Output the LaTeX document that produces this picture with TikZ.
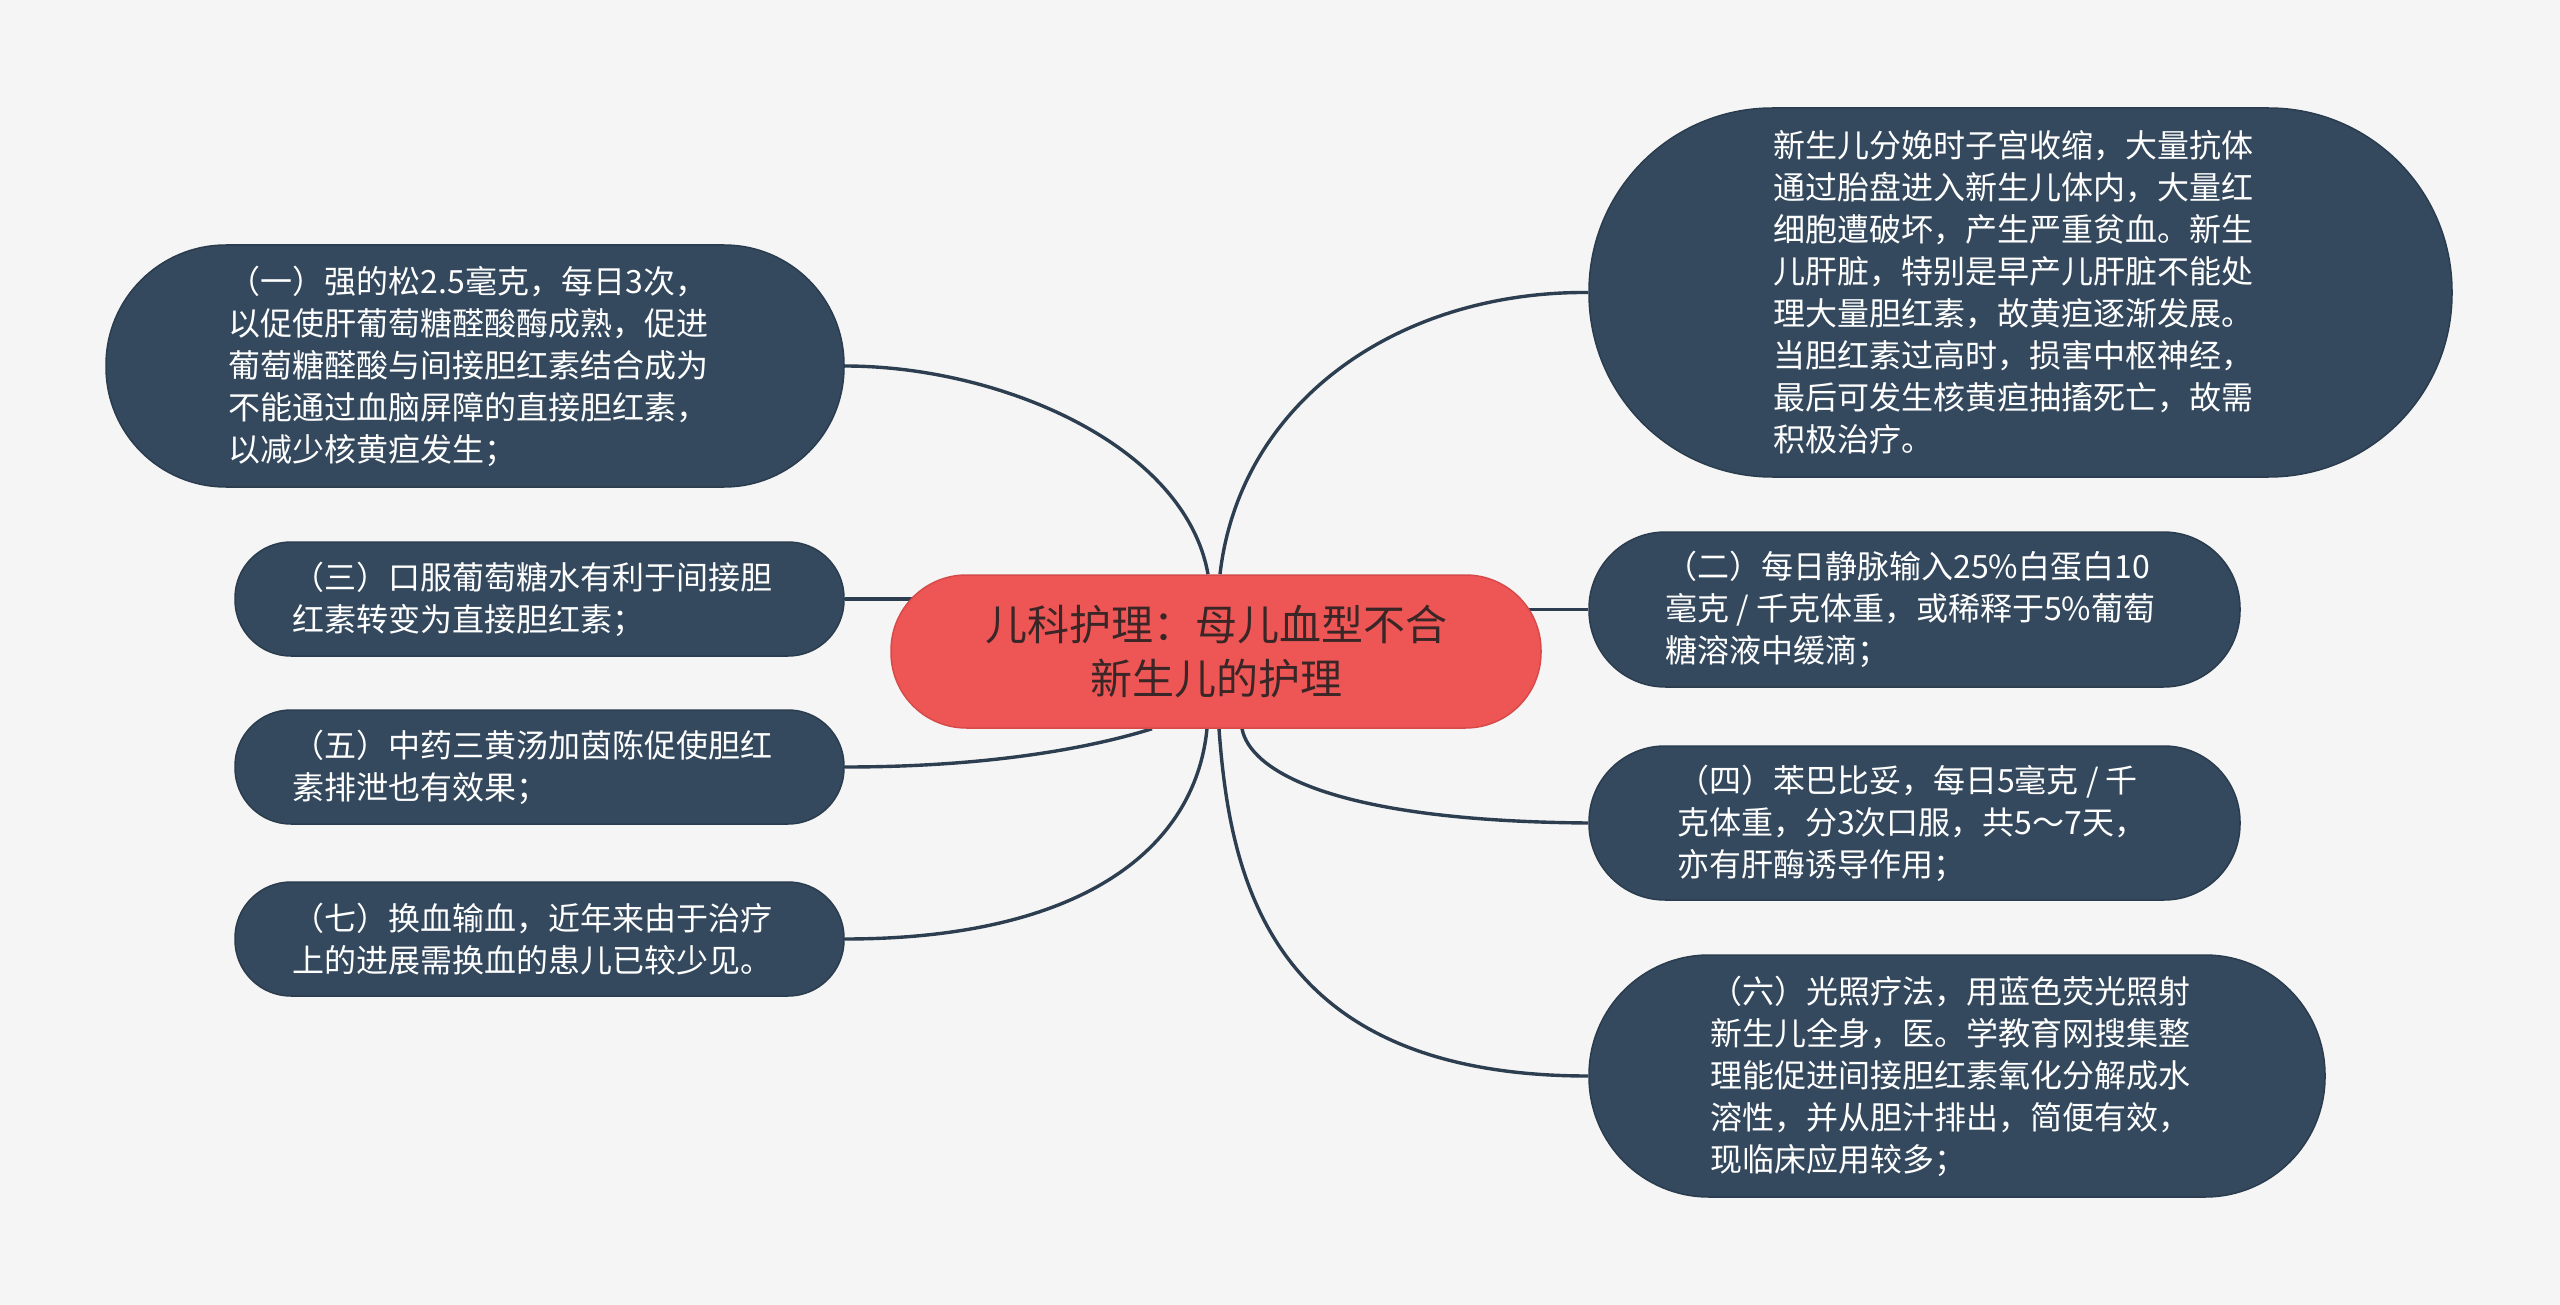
\documentclass[tikz,border=0pt]{standalone}
\usepackage{fontspec}
\setmainfont{Noto Sans CJK SC}
\usetikzlibrary{backgrounds}
\definecolor{bgc}{HTML}{F5F5F5}
\definecolor{nodebg}{HTML}{34495E}
\definecolor{nodeline}{HTML}{2A3C4E}
\definecolor{linkc}{HTML}{2C3E50}
\definecolor{rootbg}{HTML}{EE5656}
\definecolor{rootline}{HTML}{D64A4A}
\definecolor{roottext}{HTML}{3A2626}
\newcommand\padr{\hspace*{14pt}}
\begin{document}
\begin{tikzpicture}[x=1pt,y=-1pt,
  leaf/.style={rectangle, fill=nodebg, draw=nodeline, line width=1.5pt, text=white,
    align=left, font=\fontsize{32}{42}\selectfont, inner sep=0pt},
  rootbox/.style={rectangle, fill=rootbg, draw=rootline, line width=1.5pt, text=roottext,
    align=center, font=\fontsize{42}{54}\selectfont, inner sep=0pt},
  linkline/.style={draw=linkc, line width=3.4pt}
]
\useasboundingbox (0,0) rectangle (2560,1305);

% central node
\node[rootbox, minimum width=650pt, minimum height=153pt, rounded corners=75.5pt] (root) at (1216,651.5)
  {儿科护理：母儿血型不合\\新生儿的护理};

% left nodes
\node[leaf, minimum width=738pt, minimum height=242pt, rounded corners=120pt] (n1) at (475,366)
  {（一）强的松2.5毫克，每日3次，\padr\\以促使肝葡萄糖醛酸酶成熟，促进\padr\\葡萄糖醛酸与间接胆红素结合成为\padr\\不能通过血脑屏障的直接胆红素，\padr\\以减少核黄疸发生；\padr};
\node[leaf, minimum width=609pt, minimum height=114pt, rounded corners=56pt] (n3) at (539.5,599)
  {（三）口服葡萄糖水有利于间接胆\padr\\红素转变为直接胆红素；\padr};
\node[leaf, minimum width=609pt, minimum height=114pt, rounded corners=56pt] (n5) at (539.5,767)
  {（五）中药三黄汤加茵陈促使胆红\padr\\素排泄也有效果；\padr};
\node[leaf, minimum width=609pt, minimum height=114pt, rounded corners=56pt] (n7) at (539.5,939)
  {（七）换血输血，近年来由于治疗\padr\\上的进展需换血的患儿已较少见。\padr};

% right nodes
\node[leaf, minimum width=863pt, minimum height=369pt, rounded corners=183.5pt] (big) at (2020.5,292.5)
  {新生儿分娩时子宫收缩，大量抗体\padr\\通过胎盘进入新生儿体内，大量红\padr\\细胞遭破坏，产生严重贫血。新生\padr\\儿肝脏，特别是早产儿肝脏不能处\padr\\理大量胆红素，故黄疸逐渐发展。\padr\\当胆红素过高时，损害中枢神经，\padr\\最后可发生核黄疸抽搐死亡，故需\padr\\积极治疗。\padr};
\node[leaf, minimum width=651pt, minimum height=155pt, rounded corners=76.5pt] (n2) at (1914.5,609.5)
  {（二）每日静脉输入25\%白蛋白10\padr\\毫克 / 千克体重，或稀释于5\%葡萄\padr\\糖溶液中缓滴；\padr};
\node[leaf, minimum width=651pt, minimum height=154pt, rounded corners=76pt] (n4) at (1914.5,823)
  {（四）苯巴比妥，每日5毫克 / 千\padr\\克体重，分3次口服，共5～7天，\padr\\亦有肝酶诱导作用；\padr};
\node[leaf, minimum width=736pt, minimum height=242pt, rounded corners=120pt] (n6) at (1957,1076)
  {（六）光照疗法，用蓝色荧光照射\padr\\新生儿全身，医。学教育网搜集整\padr\\理能促进间接胆红素氧化分解成水\padr\\溶性，并从胆汁排出，简便有效，\padr\\现临床应用较多；\padr};

\begin{scope}[on background layer]
  \fill[bgc] (0,0) rectangle (2560,1305);
  % left connectors
  \draw[linkline] (n1.east) .. controls (1000,366) and (1185,445) .. ([xshift=-8pt]root.north);
  \draw[linkline] (n3.east) -- (n3.east -| root.center);
  \draw[linkline] (n5.east) .. controls (1000,767) and (1100,745) .. ([xshift=-64pt]root.south);
  \draw[linkline] (n7.east) .. controls (1080,939) and (1195,850) .. ([xshift=-9pt]root.south);
  % right connectors
  \draw[linkline] (big.west) .. controls (1400,291) and (1240,400) .. ([xshift=4pt]root.north);
  \draw[linkline] (n2.west) -- (n2.west -| root.center);
  \draw[linkline] (n4.west) .. controls (1330,821) and (1250,770) .. ([xshift=26pt]root.south);
  \draw[linkline] (n6.west) .. controls (1270,1076) and (1230,880) .. ([xshift=3pt]root.south);
\end{scope}
\end{tikzpicture}
\end{document}
